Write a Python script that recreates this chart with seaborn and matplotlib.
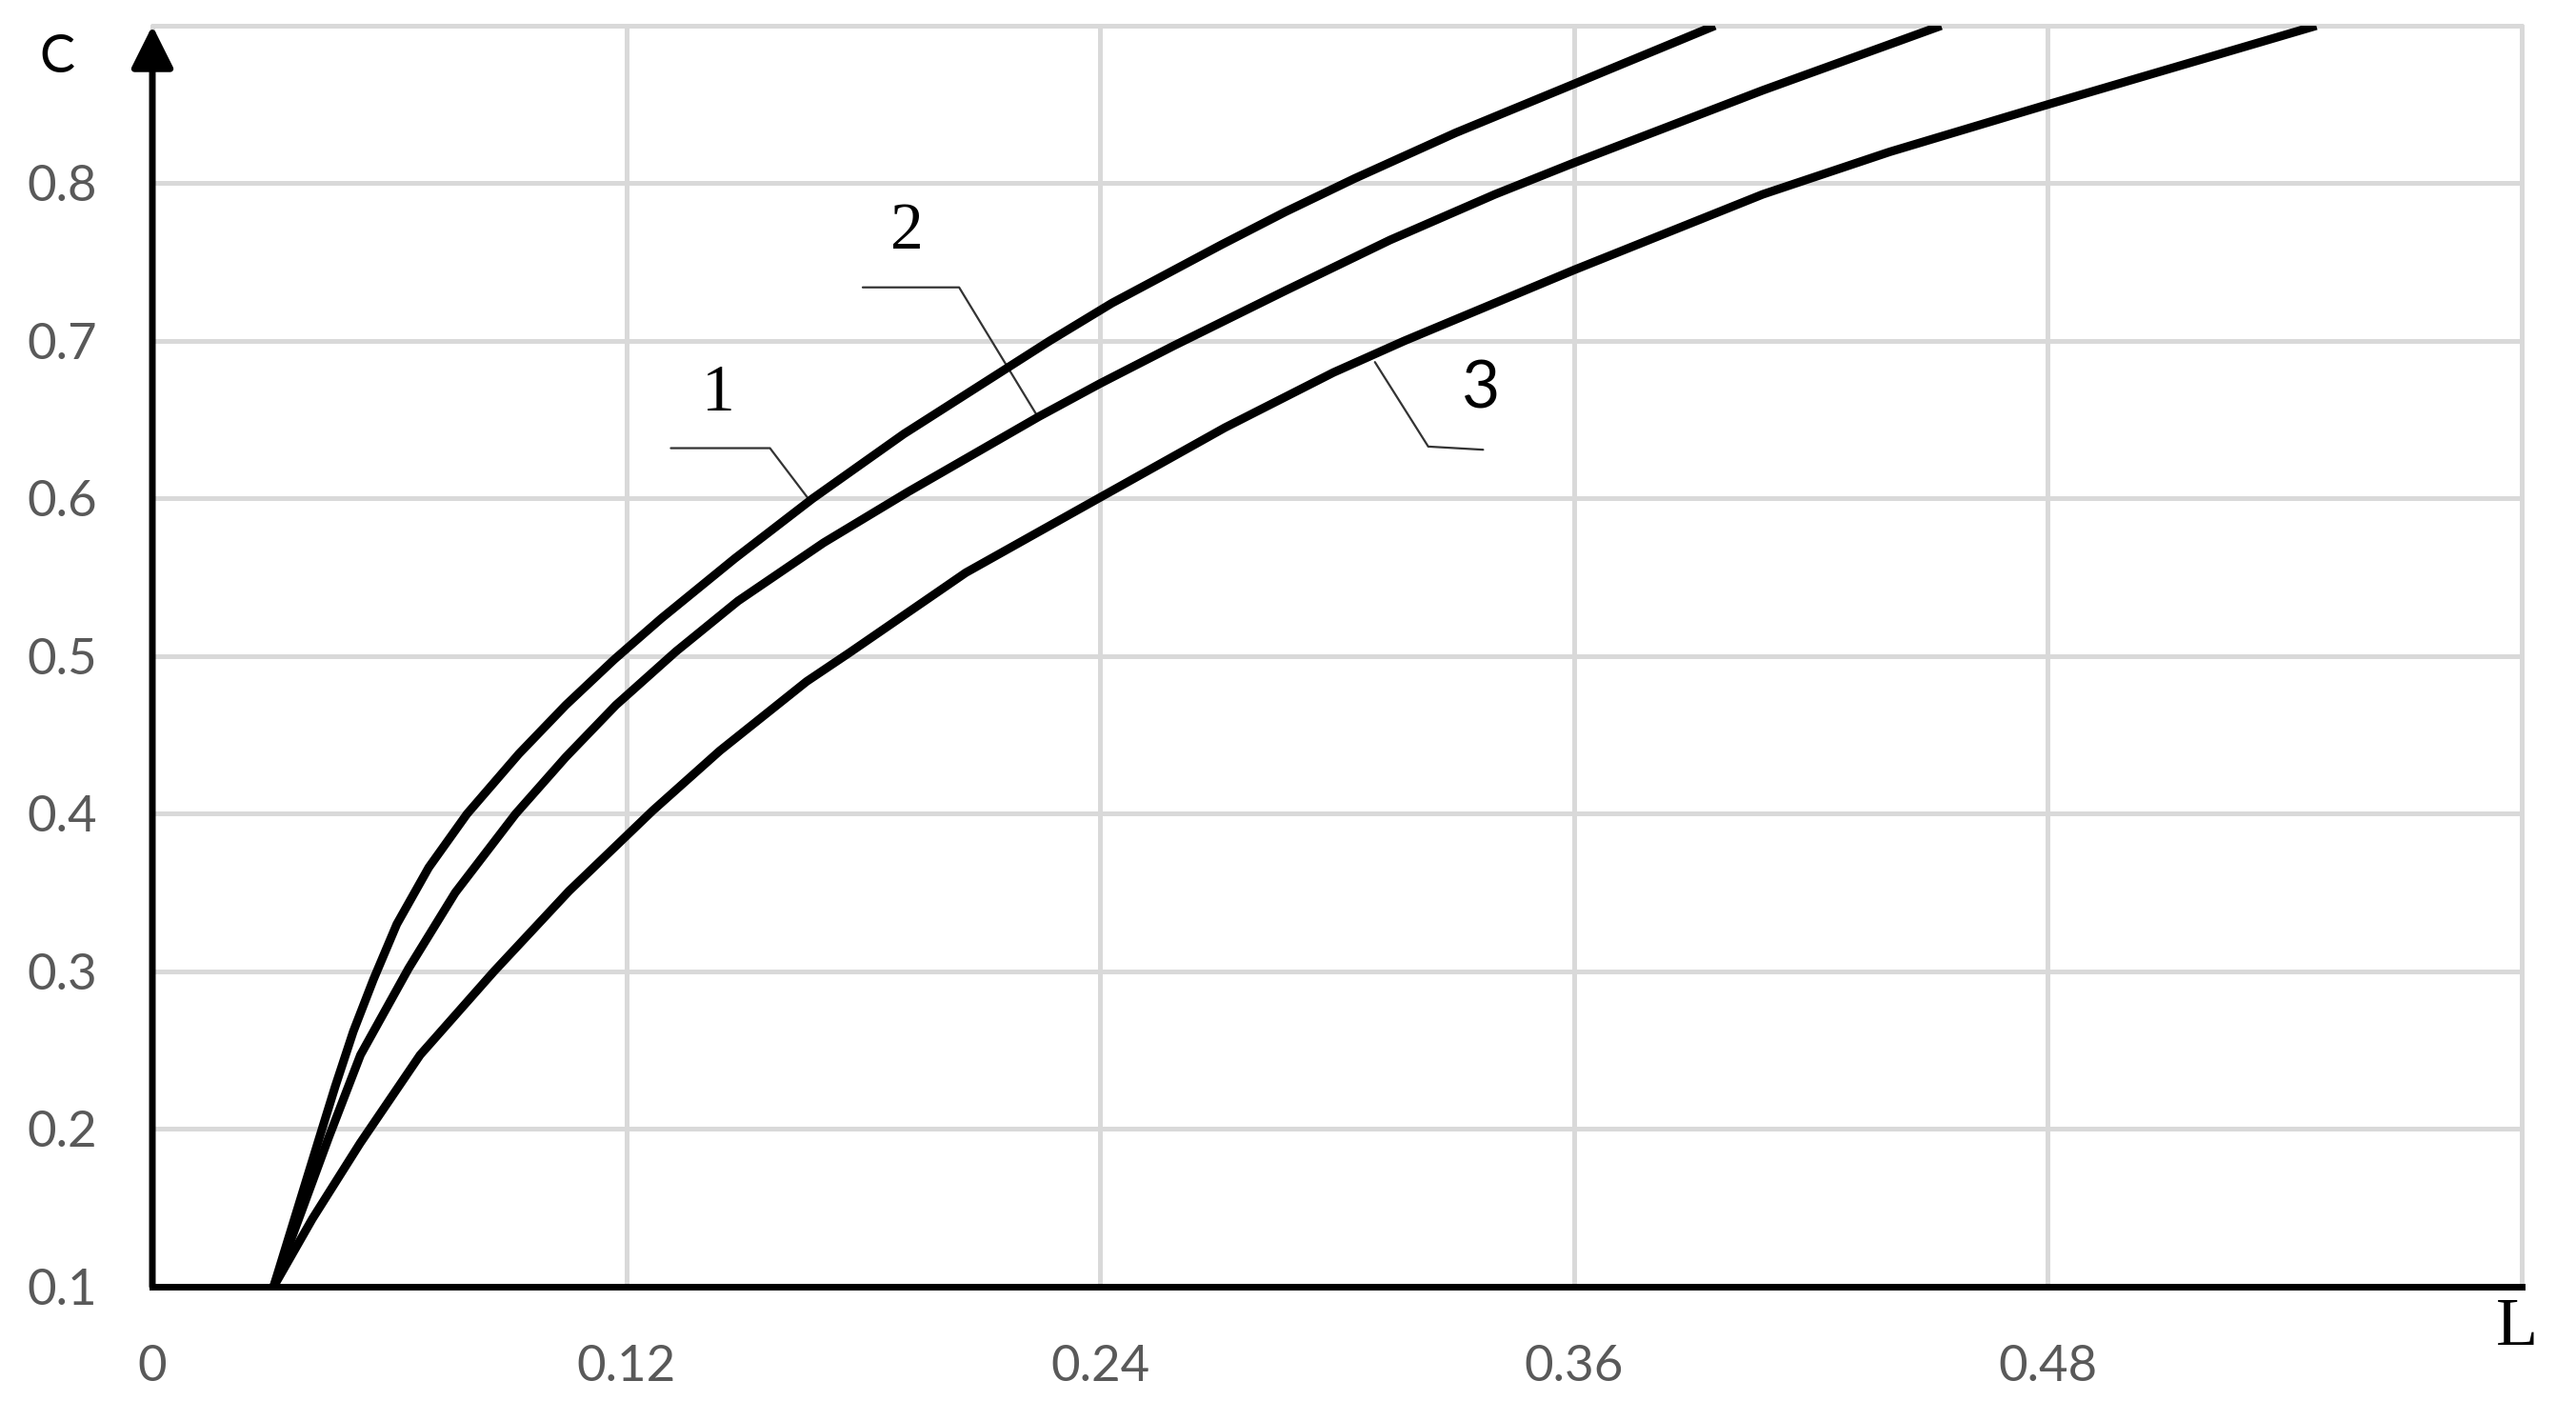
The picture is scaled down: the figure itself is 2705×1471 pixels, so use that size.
import pandas as pd
import numpy as np
import matplotlib
matplotlib.use("Agg")
import matplotlib.pyplot as plt
import seaborn as sns

# curves: L (x) against C (y)
curve1_L = [0.0307, 0.0426, 0.0463, 0.0509, 0.056, 0.0619, 0.07, 0.0797, 0.0928,
            0.1047, 0.117, 0.1289, 0.1475, 0.1672, 0.1903, 0.2272, 0.243, 0.2707,
            0.287, 0.3044, 0.33, 0.36, 0.3957]
curve1_C = [0.1, 0.197, 0.227, 0.262, 0.295, 0.33, 0.366, 0.4, 0.438,
            0.469, 0.498, 0.524, 0.562, 0.6, 0.641, 0.7, 0.724, 0.761,
            0.782, 0.803, 0.832, 0.863, 0.9]

curve2_L = [0.0307, 0.0378, 0.0447, 0.0527, 0.0649, 0.0767, 0.092, 0.1047, 0.1174,
            0.1326, 0.1483, 0.17, 0.1912, 0.2245, 0.24, 0.2587, 0.287, 0.3134,
            0.34, 0.36, 0.4078, 0.453]
curve2_C = [0.1, 0.148, 0.195, 0.247, 0.302, 0.35, 0.4, 0.436, 0.469,
            0.503, 0.535, 0.572, 0.604, 0.652, 0.673, 0.697, 0.732, 0.764,
            0.793, 0.813, 0.859, 0.9]

curve3_L = [0.0307, 0.0405, 0.0526, 0.0678, 0.0865, 0.1055, 0.1267, 0.1437, 0.1657,
            0.1764, 0.206, 0.2402, 0.2716, 0.2991, 0.317, 0.36, 0.4078, 0.44,
            0.48, 0.548]
curve3_C = [0.1, 0.143, 0.191, 0.247, 0.3, 0.351, 0.402, 0.44, 0.484,
            0.502, 0.553, 0.601, 0.645, 0.68, 0.7, 0.745, 0.793, 0.82,
            0.85, 0.9]

x_ticks = [0, 0.12, 0.24, 0.36, 0.48, 0.6]
x_labels = ["0", "0.12", "0.24", "0.36", "0.48", ""]
y_ticks = [0.1, 0.2, 0.3, 0.4, 0.5, 0.6, 0.7, 0.8, 0.9]
y_labels = ["0.1", "0.2", "0.3", "0.4", "0.5", "0.6", "0.7", "0.8", ""]

# curve numbers and their leader lines
label_text = ["1", "2", "3"]
label_pos = [(0.1434, 0.666), (0.191, 0.769), (0.3365, 0.669)]
leaders = [
    [(0.1313, 0.632), (0.1564, 0.632), (0.1661, 0.600)],
    [(0.1799, 0.734), (0.2043, 0.734), (0.2242, 0.652)],
    [(0.3096, 0.6866), (0.3231, 0.633), (0.337, 0.631)],
]

df = pd.concat([
    pd.DataFrame({"L": curve1_L, "C": curve1_C, "curve": "1"}),
    pd.DataFrame({"L": curve2_L, "C": curve2_C, "curve": "2"}),
    pd.DataFrame({"L": curve3_L, "C": curve3_C, "curve": "3"}),
])

sns.set_theme(style="white")
plt.rcParams["font.family"] = ["Lato", "DejaVu Sans"]

fig = plt.figure(figsize=(27.05, 14.71), dpi=100)
ax = fig.add_axes([0.05915, 0.08158, 0.91975, 0.90007])

sns.lineplot(data=df, x="L", y="C", hue="curve", palette=["black"] * 3,
             linewidth=6.5, sort=False, estimator=None, legend=False, ax=ax,
             solid_capstyle="butt", solid_joinstyle="round", zorder=3)

ax.set_xlim(0, 0.6)
ax.set_ylim(0.1, 0.9)
ax.set_xticks(x_ticks)
ax.set_xticklabels(x_labels)
ax.set_yticks(y_ticks)
ax.set_yticklabels(y_labels)
ax.tick_params(axis="both", length=0, labelsize=38, labelcolor="#595959")
ax.tick_params(axis="x", pad=44)
ax.tick_params(axis="y", pad=42)
ax.set_xlabel("")
ax.set_ylabel("")

ax.grid(True, color="#d9d9d9", linewidth=3.6)
for gl in ax.get_xgridlines() + ax.get_ygridlines():
    gl.set_clip_on(False)

for side in ["top", "right", "left"]:
    ax.spines[side].set_visible(False)
ax.spines["bottom"].set_color("black")
ax.spines["bottom"].set_linewidth(5)
ax.spines["bottom"].set_zorder(4)

# y axis drawn as an arrow
ax.annotate("", xy=(0, 0.9), xytext=(0, 0.1),
            arrowprops=dict(arrowstyle="-|>,head_length=0.9,head_width=0.45",
                            mutation_scale=30, lw=5, color="black",
                            shrinkA=0, shrinkB=0),
            annotation_clip=False, zorder=5)

# axis letters
fig.text(60 / 2705, 1 - 60 / 1471, "C", fontsize=40, color="black",
         ha="center", va="center")
fig.text(2643 / 2705, 1 - 1395 / 1471, "L", fontsize=52, color="black",
         family="Liberation Serif", ha="center", va="center")

# curve numbers with leaders
for txt, (lx, ly), pts in zip(label_text, label_pos, leaders):
    fam = "Liberation Serif" if txt != "3" else "Lato"
    ax.text(lx, ly, txt, fontsize=50, family=fam, color="black",
            ha="center", va="center")
    xs = [p[0] for p in pts]
    ys = [p[1] for p in pts]
    ax.plot(xs, ys, color="#333333", linewidth=1.6, zorder=2)

fig.savefig("out.png", dpi=100, facecolor="white")
